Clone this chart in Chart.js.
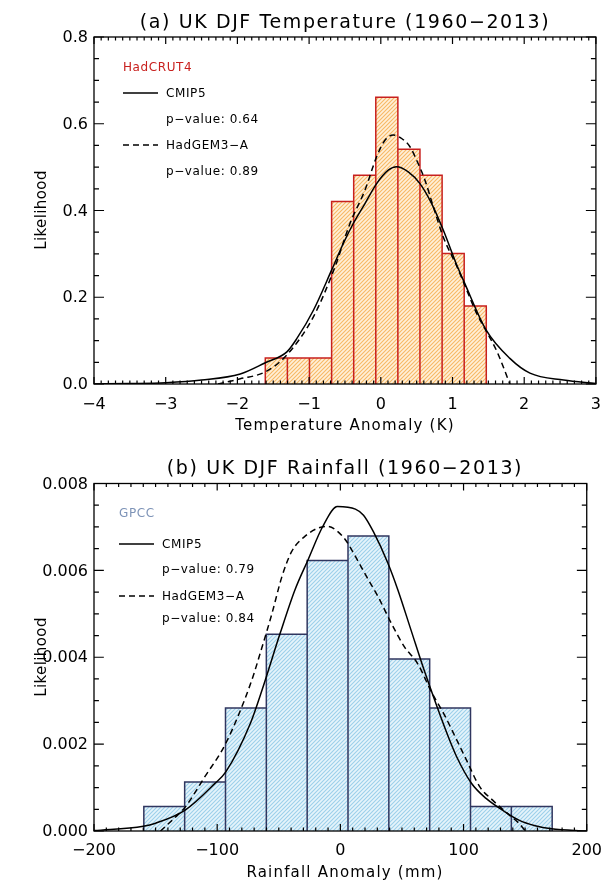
<!DOCTYPE html>
<html>
<head>
<meta charset="utf-8">
<script src="https://cdn.jsdelivr.net/npm/chart.js@4.4.1/dist/chart.umd.min.js"></script>
<style>
  html, body { margin: 0; padding: 0; background: #fff; }
  body { width: 612px; height: 883px; position: relative; overflow: hidden; font-family: "DejaVu Sans", sans-serif; color: #000; }
  .panel { position: absolute; left: 0; width: 612px; }
  .txt { position: absolute; white-space: nowrap; line-height: 1; transform: translateY(-50%); }
  .title { left: 94px; width: 502px; text-align: center; font-size: 19px; letter-spacing: 1.6px; }
  .xtitle { left: 94px; width: 502px; text-align: center; font-size: 15px; letter-spacing: 1.2px; }
  .ytitle { position: absolute; left: 41px; white-space: nowrap; line-height: 1; font-size: 15px; letter-spacing: 0.4px; transform: translate(-50%, -50%) rotate(-90deg); }
  .leg { font-size: 12px; letter-spacing: 0.6px; }
  svg.sample { position: absolute; overflow: visible; }
</style>
</head>
<body>

<div class="panel" style="top:0;height:440px;"><canvas id="tempChart" width="612" height="440"></canvas></div>
<div class="panel" style="top:440px;height:443px;"><canvas id="rainChart" width="612" height="443"></canvas></div>

<!-- panel (a) texts -->
<div class="txt title" style="top:21px;">(a) UK DJF Temperature (1960−2013)</div>
<div class="txt xtitle" style="top:425px;">Temperature Anomaly (K)</div>
<div class="ytitle" style="top:210px;">Likelihood</div>
<div class="txt leg" style="left:123px;top:67px;color:#c8201e;">HadCRUT4</div>
<svg class="sample" style="left:123px;top:93px;" width="35" height="1"><line x1="0" y1="0" x2="35" y2="0" stroke="#000" stroke-width="1.5"/></svg>
<div class="txt leg" style="left:166px;top:93px;">CMIP5</div>
<div class="txt leg" style="left:166px;top:119px;">p−value: 0.64</div>
<svg class="sample" style="left:123px;top:145px;" width="35" height="1"><line x1="0" y1="0" x2="35" y2="0" stroke="#000" stroke-width="1.5" stroke-dasharray="6 4"/></svg>
<div class="txt leg" style="left:166px;top:145px;">HadGEM3−A</div>
<div class="txt leg" style="left:166px;top:171px;">p−value: 0.89</div>

<!-- panel (b) texts -->
<div class="txt title" style="top:467px;">(b) UK DJF Rainfall (1960−2013)</div>
<div class="txt xtitle" style="top:872px;">Rainfall Anomaly (mm)</div>
<div class="ytitle" style="top:657px;">Likelihood</div>
<div class="txt leg" style="left:119px;top:513px;color:#7d93b7;">GPCC</div>
<svg class="sample" style="left:119px;top:544px;" width="35" height="1"><line x1="0" y1="0" x2="35" y2="0" stroke="#000" stroke-width="1.5"/></svg>
<div class="txt leg" style="left:162px;top:544px;">CMIP5</div>
<div class="txt leg" style="left:162px;top:569px;">p−value: 0.79</div>
<svg class="sample" style="left:119px;top:596px;" width="35" height="1"><line x1="0" y1="0" x2="35" y2="0" stroke="#000" stroke-width="1.5" stroke-dasharray="6 4"/></svg>
<div class="txt leg" style="left:162px;top:596px;">HadGEM3−A</div>
<div class="txt leg" style="left:162px;top:618px;">p−value: 0.84</div>

<script>
// ---- panel (a): temperature ----
const tempEdges = [-1.611, -1.303, -0.995, -0.686, -0.378, -0.070, 0.238, 0.546, 0.855, 1.163, 1.471];
const tempObs = [0.060, 0.060, 0.060, 0.421, 0.481, 0.661, 0.541, 0.481, 0.301, 0.180];
const tempCmipX = [-4.0, -3.5, -3.0, -2.5, -1.96, -1.61, -1.31, -1.17, -0.94, -0.685, -0.523, -0.384, -0.221, -0.058, 0.104, 0.221, 0.383, 0.546, 0.709, 0.871, 1.058, 1.16, 1.47, 1.80, 2.08, 2.55, 3.0];
const tempCmipY = [0.0, 0.001, 0.003, 0.009, 0.023, 0.049, 0.074, 0.105, 0.170, 0.263, 0.324, 0.370, 0.416, 0.462, 0.493, 0.501, 0.489, 0.462, 0.416, 0.355, 0.275, 0.236, 0.124, 0.059, 0.025, 0.009, 0.001];
const tempHadX = [-2.27, -1.96, -1.61, -1.31, -0.94, -0.639, -0.430, -0.221, -0.058, 0.058, 0.174, 0.291, 0.407, 0.500, 0.616, 0.732, 0.871, 1.058, 1.16, 1.33, 1.47, 1.62, 1.80];
const tempHadY = [0.0, 0.012, 0.028, 0.067, 0.155, 0.270, 0.370, 0.447, 0.524, 0.562, 0.574, 0.566, 0.547, 0.516, 0.470, 0.409, 0.339, 0.272, 0.232, 0.165, 0.122, 0.075, 0.0];
const tempXTicks = [-4, -3, -2, -1, 0, 1, 2, 3];
const tempYTicks = [0.0, 0.2, 0.4, 0.6, 0.8];

// ---- panel (b): rainfall ----
const rainEdges = [-159.55, -126.4, -93.25, -60.1, -26.95, 6.2, 39.35, 72.5, 105.65, 138.8, 171.95];
const rainObs = [0.000566, 0.00113, 0.00283, 0.00453, 0.00623, 0.00679, 0.00396, 0.00283, 0.000566, 0.000566];
const rainCmipX = [-200, -160, -150, -126, -102, -93, -73, -63.5, -48.9, -36.9, -26.3, -14.3, -2.4, 12.2, 18.8, 26.8, 38.7, 46.7, 57.3, 67.9, 78.5, 86.5, 94.4, 106.4, 118.3, 131.6, 144.9, 158.1, 171.4, 200];
const rainCmipY = [0.00001, 0.00011, 0.00018, 0.00048, 0.00109, 0.00136, 0.00248, 0.00325, 0.00455, 0.00555, 0.00624, 0.00701, 0.00747, 0.00741, 0.00727, 0.00689, 0.00616, 0.00555, 0.00463, 0.00371, 0.00286, 0.00225, 0.00171, 0.0011, 0.00075, 0.00048, 0.00025, 0.00012, 0.00005, 0.0];
const rainHadX = [-146, -131, -126, -110, -93, -72.8, -63.5, -55.5, -47.5, -39.6, -27.6, -18.3, -10.3, -3.7, 4.2, 12.2, 22.8, 30.7, 41.4, 52.0, 62.6, 74.5, 83.8, 94.4, 102.4, 113.1, 123.6, 137.0, 144.9, 150.2];
const rainHadY = [0.0, 0.0004, 0.00055, 0.00125, 0.00202, 0.0034, 0.00424, 0.00501, 0.00585, 0.00643, 0.00681, 0.00697, 0.00701, 0.00693, 0.0067, 0.00632, 0.00578, 0.00539, 0.00478, 0.00424, 0.00386, 0.00317, 0.00271, 0.0021, 0.00163, 0.00102, 0.00071, 0.00037, 0.00018, 0.0];
const rainXTicks = [-200, -100, 0, 100, 200];
const rainYTicks = [0.000, 0.002, 0.004, 0.006, 0.008];

// hatch pattern like the IDL polyfill
function hatch(bg, fg) {
  const c = document.createElement('canvas');
  c.width = 4; c.height = 4;
  const g = c.getContext('2d');
  g.fillStyle = bg;
  g.fillRect(0, 0, 4, 4);
  g.strokeStyle = fg;
  g.lineWidth = 1.1;
  g.beginPath();
  g.moveTo(-1, 5); g.lineTo(5, -1);
  g.moveTo(-1, 1); g.lineTo(1, -1);
  g.moveTo(3, 5); g.lineTo(5, 3);
  g.stroke();
  return g.createPattern(c, 'repeat');
}

// histogram outline: each bin as its own closed box
function stepOutline(edges, heights) {
  const pts = [];
  heights.forEach((h, i) => {
    pts.push({ x: edges[i], y: 0 }, { x: edges[i], y: h }, { x: edges[i + 1], y: h }, { x: edges[i + 1], y: 0 });
  });
  return pts;
}

const pairs = (xs, ys) => xs.map((x, i) => ({ x: x, y: ys[i] }));
const minus = v => (v < 0 ? '\u2212' + Math.abs(v) : String(v));

// frame + inward ticks (IDL style), majors and minors on all four sides
const frameTicks = {
  id: 'frameTicks',
  afterDatasetsDraw(chart, args, opts) {
    const { ctx, chartArea: a, scales: { x, y } } = chart;
    const xLen = 0.02 * (a.bottom - a.top);
    const yLen = 0.02 * (a.right - a.left);
    const isMajor = (v, step) => Math.abs(v / step - Math.round(v / step)) < 1e-6;
    ctx.save();
    ctx.strokeStyle = '#000';
    ctx.lineWidth = 1.2;
    ctx.beginPath();
    let n = Math.round((x.max - x.min) / opts.xMinor);
    for (let k = 0; k <= n; k++) {
      const v = x.min + k * opts.xMinor;
      const l = isMajor(v, opts.xMajor) ? xLen : xLen / 2;
      const px = x.getPixelForValue(v);
      ctx.moveTo(px, a.bottom); ctx.lineTo(px, a.bottom - l);
      ctx.moveTo(px, a.top); ctx.lineTo(px, a.top + l);
    }
    n = Math.round((y.max - y.min) / opts.yMinor);
    for (let k = 0; k <= n; k++) {
      const v = y.min + k * opts.yMinor;
      const l = isMajor(v, opts.yMajor) ? yLen : yLen / 2;
      const py = y.getPixelForValue(v);
      ctx.moveTo(a.left, py); ctx.lineTo(a.left + l, py);
      ctx.moveTo(a.right, py); ctx.lineTo(a.right - l, py);
    }
    ctx.stroke();
    ctx.lineWidth = 1.3;
    ctx.strokeRect(a.left, a.top, a.right - a.left, a.bottom - a.top);
    ctx.restore();
  }
};

const tickFont = { family: 'DejaVu Sans', size: 16 };

function panel(id, p) {
  return new Chart(document.getElementById(id).getContext('2d'), {
    type: 'line',
    data: {
      datasets: [
        {
          label: 'CMIP5',
          data: pairs(p.cmipX, p.cmipY),
          borderColor: '#000',
          borderWidth: 1.5,
          pointRadius: 0,
          cubicInterpolationMode: 'monotone',
          fill: false,
          order: 0
        },
        {
          label: 'HadGEM3-A',
          data: pairs(p.hadX, p.hadY),
          borderColor: '#000',
          borderWidth: 1.5,
          borderDash: [6, 4],
          pointRadius: 0,
          cubicInterpolationMode: 'monotone',
          fill: false,
          order: 1
        },
        {
          label: p.obsName,
          data: stepOutline(p.edges, p.obs),
          borderColor: p.barLine,
          borderWidth: 1.5,
          borderJoinStyle: 'miter',
          backgroundColor: hatch(p.hatchBg, p.hatchFg),
          pointRadius: 0,
          tension: 0,
          fill: 'origin',
          order: 2
        }
      ]
    },
    options: {
      responsive: false,
      animation: false,
      events: [],
      layout: { padding: { top: p.top, right: 16, left: 0, bottom: 0 } },
      plugins: {
        legend: { display: false },
        tooltip: { enabled: false },
        frameTicks: p.ticks
      },
      scales: {
        x: {
          type: 'linear',
          min: p.xTicks[0],
          max: p.xTicks[p.xTicks.length - 1],
          grid: { display: false, drawTicks: false },
          border: { display: false },
          afterBuildTicks: s => { s.ticks = p.xTicks.map(v => ({ value: v })); },
          afterFit: s => { s.height = p.xHeight; },
          ticks: { font: tickFont, color: '#000', padding: p.xPad, maxRotation: 0, autoSkip: false, callback: v => minus(v) }
        },
        y: {
          type: 'linear',
          min: p.yTicks[0],
          max: p.yTicks[p.yTicks.length - 1],
          grid: { display: false, drawTicks: false },
          border: { display: false },
          afterBuildTicks: s => { s.ticks = p.yTicks.map(v => ({ value: v })); },
          afterFit: s => { s.width = 94; },
          ticks: { font: tickFont, color: '#000', padding: 6, labelOffset: 1, autoSkip: false, callback: v => v.toFixed(p.yDec) }
        }
      }
    },
    plugins: [frameTicks]
  });
}

panel('tempChart', {
  edges: tempEdges, obs: tempObs, obsName: 'HadCRUT4',
  cmipX: tempCmipX, cmipY: tempCmipY, hadX: tempHadX, hadY: tempHadY,
  xTicks: tempXTicks, yTicks: tempYTicks, yDec: 1,
  barLine: '#c8201e', hatchBg: '#fff0d9', hatchFg: '#f7b865',
  top: 37, xHeight: 56, xPad: 11,
  ticks: { xMajor: 1, xMinor: 0.1, yMajor: 0.2, yMinor: 0.05 }
});

panel('rainChart', {
  edges: rainEdges, obs: rainObs, obsName: 'GPCC',
  cmipX: rainCmipX, cmipY: rainCmipY, hadX: rainHadX, hadY: rainHadY,
  xTicks: rainXTicks, yTicks: rainYTicks, yDec: 3,
  barLine: '#30365f', hatchBg: '#e6f4fb', hatchFg: '#9ccfea',
  top: 43.5, xHeight: 52, xPad: 10,
  ticks: { xMajor: 100, xMinor: 10, yMajor: 0.002, yMinor: 0.0005 }
});
</script>
</body>
</html>
